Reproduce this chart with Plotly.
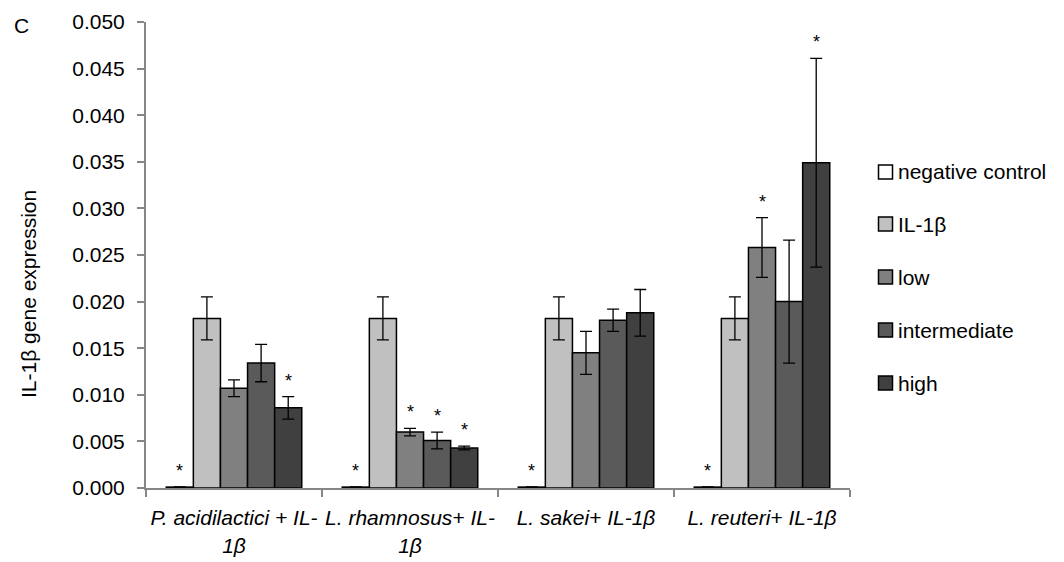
import plotly.graph_objects as go

# Treatment groups (x-axis categories) and their display labels
groups = ["P. acidilactici", "L. rhamnosus", "L. sakei", "L. reuteri"]
group_labels = [
    "P. acidilactici + IL-<br>1β",
    "L. rhamnosus+ IL-<br>1β",
    "L. sakei+ IL-1β",
    "L. reuteri+ IL-1β",
]

# Series: relative IL-1β expression, one value per group
series_names = ["negative control", "IL-1β", "low", "intermediate", "high"]
neg_control = [0.0001, 0.0001, 0.0001, 0.0001]
il1b = [0.0182, 0.0182, 0.0182, 0.0182]
low = [0.0107, 0.0060, 0.0145, 0.0258]
intermediate = [0.0134, 0.0051, 0.0180, 0.0200]
high = [0.0086, 0.0043, 0.0188, 0.0349]

# Standard deviations
neg_control_err = [0.00003, 0.00003, 0.00003, 0.00003]
il1b_err = [0.0023, 0.0023, 0.0023, 0.0023]
low_err = [0.0009, 0.0004, 0.0023, 0.0032]
intermediate_err = [0.0020, 0.0009, 0.0012, 0.0066]
high_err = [0.0012, 0.0002, 0.0025, 0.0112]

# Significance flags (True -> asterisk above the bar)
neg_control_sig = [True, True, True, True]
il1b_sig = [False, False, False, False]
low_sig = [False, True, False, True]
intermediate_sig = [False, True, False, False]
high_sig = [True, True, False, True]

values = [neg_control, il1b, low, intermediate, high]
errors = [neg_control_err, il1b_err, low_err, intermediate_err, high_err]
sigs = [neg_control_sig, il1b_sig, low_sig, intermediate_sig, high_sig]
colors = ["#ffffff", "#c0c0c0", "#808080", "#5a5a5a", "#404040"]

FONT = "Liberation Sans"
W, H = 1064, 562
ML, MR, MT, MB = 146, 214, 22, 74
BARGAP = 0.23

fig = go.Figure()
for name, vals, errs, col in zip(series_names, values, errors, colors):
    fig.add_trace(go.Bar(
        name=name,
        x=group_labels,
        y=vals,
        marker=dict(color=col, line=dict(color="#000000", width=1.5)),
        error_y=dict(type="data", array=errs, visible=True,
                     color="#000000", thickness=1.3, width=6),
        showlegend=False,
    ))

# Asterisks over significant bars
plot_w = W - ML - MR
bar_px = plot_w / len(groups) * (1 - BARGAP) / len(series_names)
annotations = []
for si, (vals, errs, flags) in enumerate(zip(values, errors, sigs)):
    for gi, flag in enumerate(flags):
        if not flag:
            continue
        annotations.append(dict(
            x=group_labels[gi], y=vals[gi] + errs[gi], xref="x", yref="y",
            text="*", showarrow=False, xanchor="center", yanchor="bottom",
            xshift=(si - 2) * bar_px, yshift=4,
            font=dict(family=FONT, size=18, color="#000000"),
        ))

# Hand-built legend: small square plus label
plot_h = H - MT - MB
shapes = []
legend_y_px = [172, 224, 277, 330, 383]
for name, col, ypx in zip(series_names, colors, legend_y_px):
    yp = (H - MB - ypx) / plot_h
    shapes.append(dict(
        type="rect", xref="paper", yref="paper",
        xsizemode="pixel", ysizemode="pixel",
        xanchor=(885.5 - ML) / plot_w, yanchor=yp,
        x0=-7, x1=7, y0=-7, y1=7,
        fillcolor=col, line=dict(color="#000000", width=1.5),
    ))
    annotations.append(dict(
        x=(896 - ML) / plot_w, y=yp, xref="paper", yref="paper",
        text=name, showarrow=False, xanchor="left", yanchor="middle",
        font=dict(family=FONT, size=21, color="#000000"),
    ))

# Axis title and panel letter
annotations.append(dict(
    x=(28 - ML) / plot_w, y=(H - MB - 294) / plot_h, xref="paper", yref="paper",
    text="IL-1β gene expression", textangle=-90, showarrow=False,
    xanchor="center", yanchor="middle",
    font=dict(family=FONT, size=21, color="#000000"),
))
annotations.append(dict(
    x=(12 - ML) / plot_w, y=(H - MB - 25) / plot_h, xref="paper", yref="paper",
    text="C", showarrow=False, xanchor="left", yanchor="middle",
    font=dict(family=FONT, size=21, color="#000000"),
))

fig.update_layout(
    width=W, height=H,
    margin=dict(l=ML, r=MR, t=MT, b=MB, pad=0, autoexpand=False),
    barmode="group", bargap=BARGAP, bargroupgap=0,
    paper_bgcolor="#ffffff", plot_bgcolor="#ffffff",
    font=dict(family=FONT, size=21, color="#000000"),
    showlegend=False,
    annotations=annotations, shapes=shapes,
)
fig.update_xaxes(
    type="category", showline=True, linecolor="#868686", linewidth=2,
    ticks="outside", tickson="boundaries", ticklen=7, tickwidth=2,
    tickcolor="#868686", showgrid=False, zeroline=False,
    tickangle=0, automargin=False,
    tickfont=dict(family=FONT, size=21, color="#000000", style="italic"),
    ticklabelstandoff=10,
)
fig.update_yaxes(
    range=[0, 0.05], dtick=0.005, tickformat=".3f",
    showline=True, linecolor="#868686", linewidth=2,
    ticks="outside", ticklen=7, tickwidth=2, tickcolor="#868686",
    showgrid=False, zeroline=False, automargin=False,
    tickfont=dict(family=FONT, size=21, color="#000000"),
    ticklabelstandoff=8,
)

fig.write_html("out.html")
